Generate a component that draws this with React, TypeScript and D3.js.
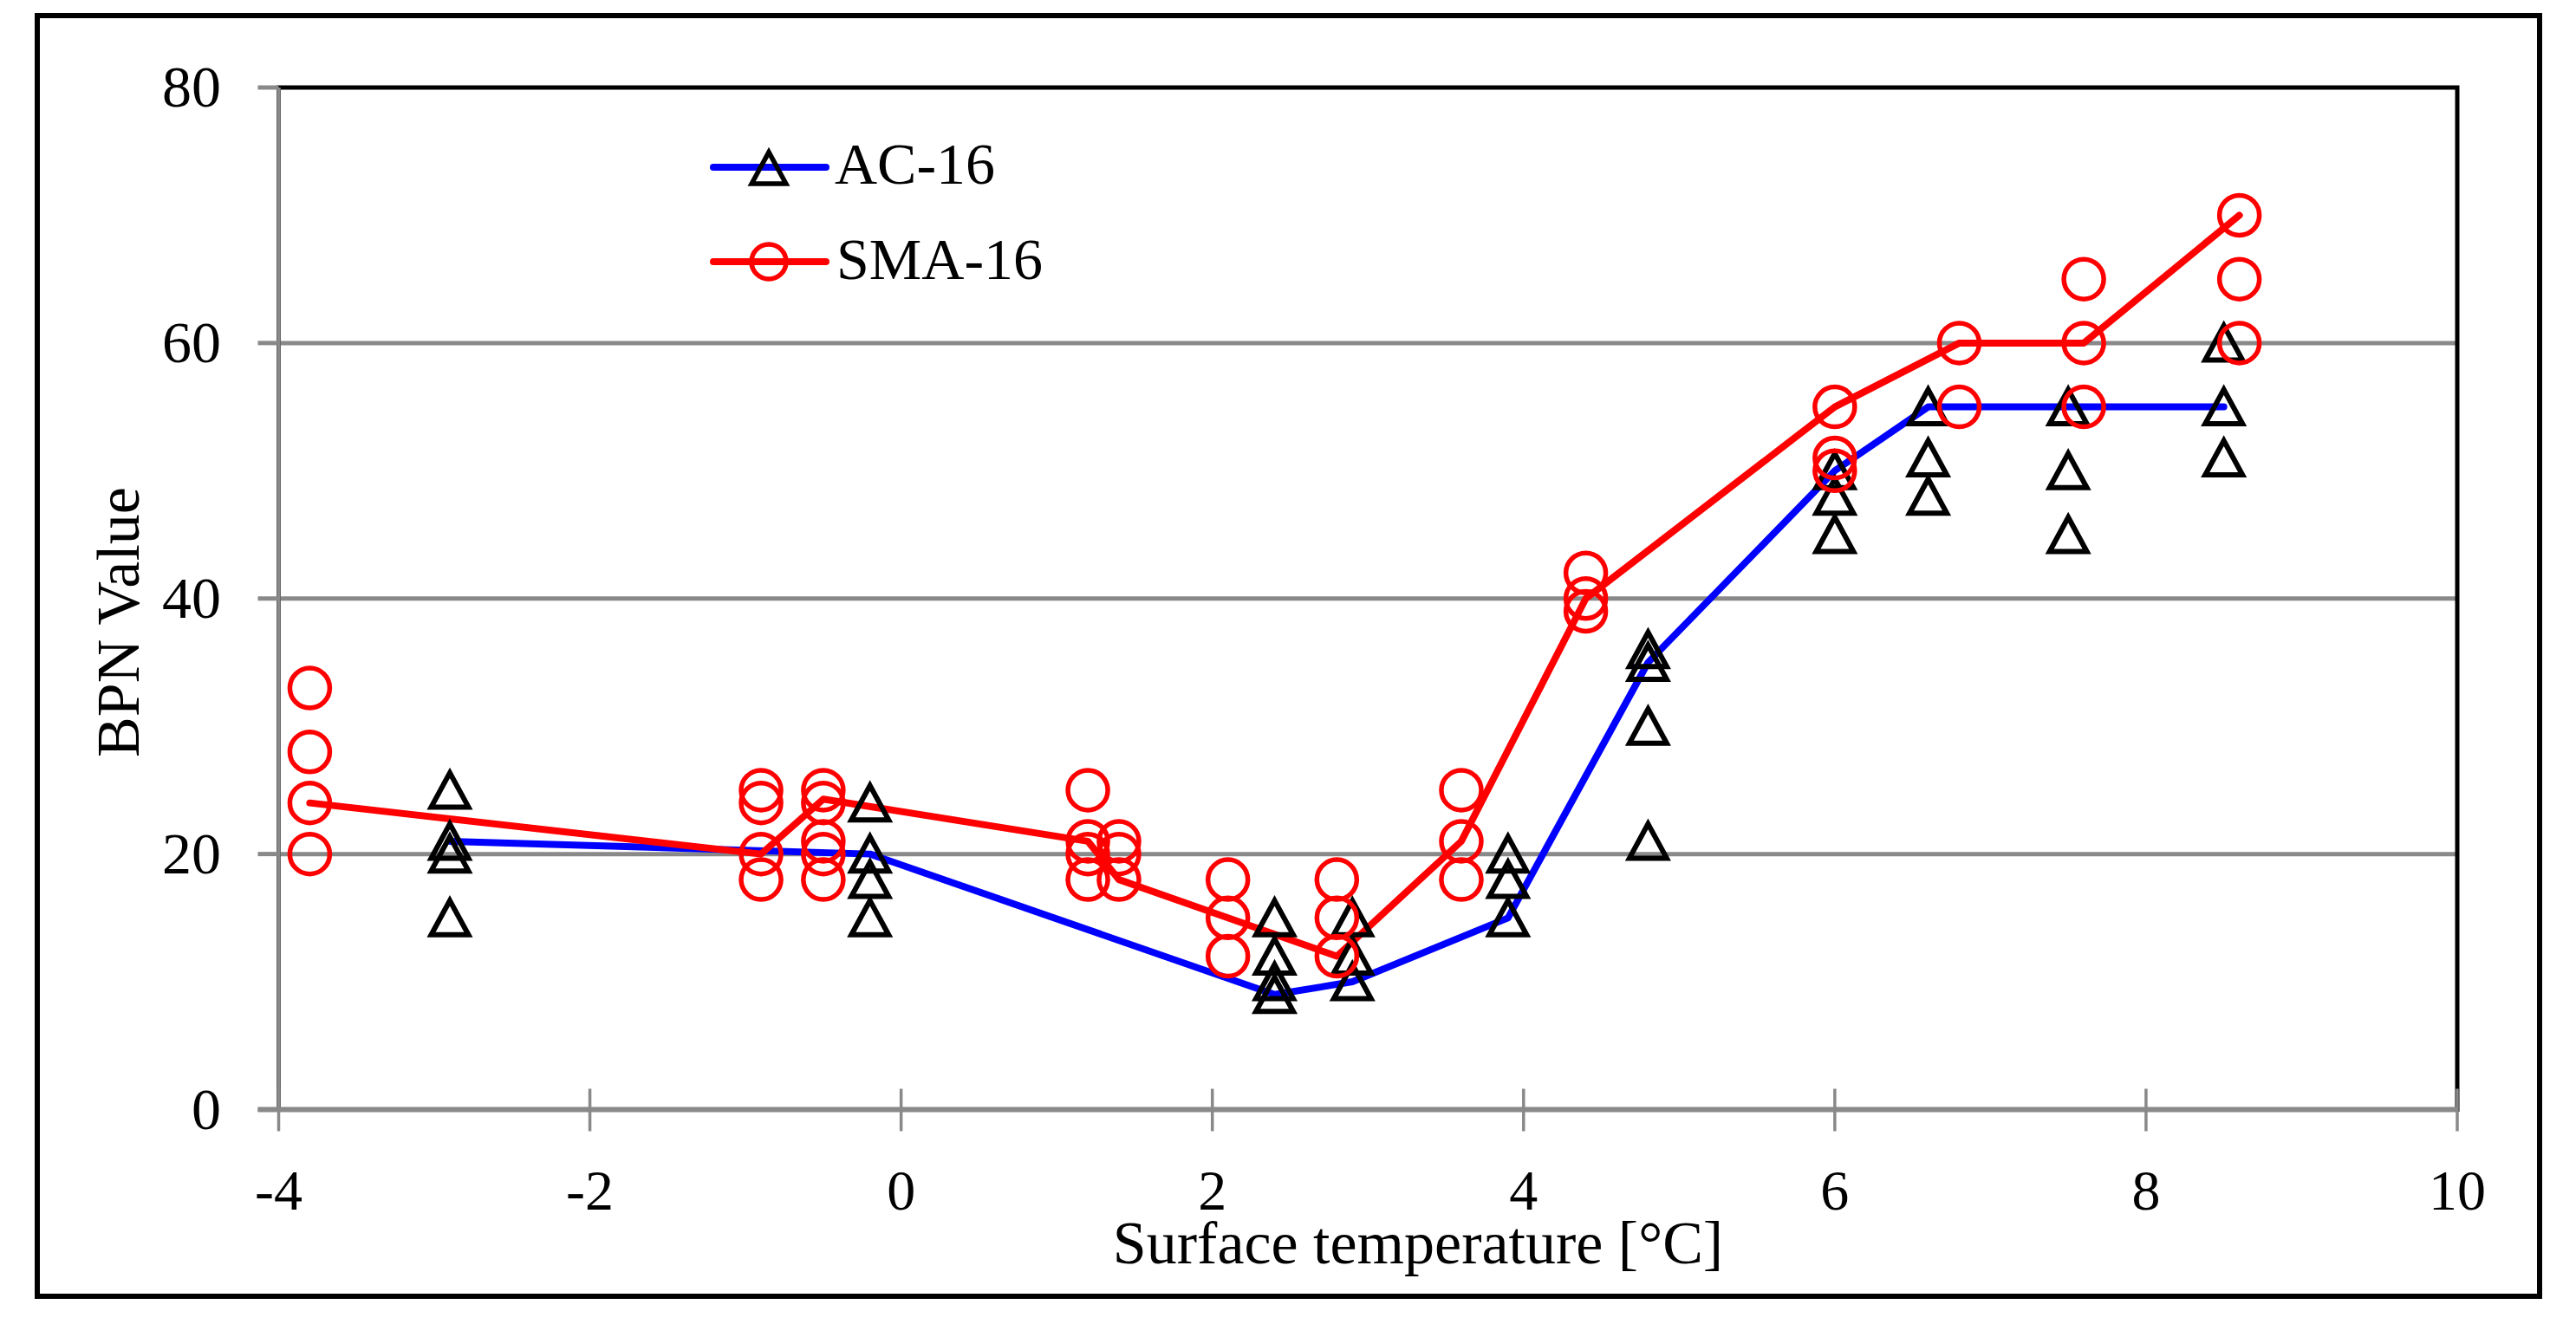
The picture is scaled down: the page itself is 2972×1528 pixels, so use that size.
import React from "react";
import * as d3 from "d3";

// ---- data ----
const X_TICKS = [-4, -2, 0, 2, 4, 6, 8, 10];
const Y_TICKS = [0, 20, 40, 60, 80];
const GRID_VALUES = [20, 40, 60];

// AC-16 individual readings
const AC_TEMPS = [-2.9, -0.2, 2.4, 2.9, 3.9, 4.8, 6.0, 6.6, 7.5, 8.5];
const AC_READINGS = [
  [25, 21, 20, 15],
  [24, 20, 18, 15],
  [15, 12, 10, 9],
  [15, 12, 10],
  [20, 18, 15],
  [36, 35, 30, 21],
  [50, 48, 45],
  [55, 51, 48],
  [55, 50, 45],
  [60, 55, 51],
];
// AC-16 line
const AC_LINE_X = [-2.9, -0.2, 2.4, 2.9, 3.9, 4.8, 6.0, 6.6, 7.5, 8.5];
const AC_LINE_Y = [21, 20, 9, 10, 15, 35, 50, 55, 55, 55];

// SMA-16 individual readings
const SMA_TEMPS = [-3.8, -0.9, -0.5, 1.2, 1.4, 2.1, 2.8, 3.6, 4.4, 6.0, 6.8, 7.6, 8.6];
const SMA_READINGS = [
  [33, 28, 24, 20],
  [25, 24, 20, 18],
  [25, 24, 21, 20, 18],
  [25, 21, 20, 18],
  [21, 20, 18],
  [18, 15, 12],
  [18, 15, 12],
  [25, 21, 18],
  [42, 40, 39],
  [55, 51, 50],
  [60, 55],
  [65, 60, 55],
  [70, 65, 60],
];
// SMA-16 line
const SMA_LINE_X = [-3.8, -0.9, -0.5, 1.2, 1.4, 2.1, 2.8, 3.6, 4.4, 6.0, 6.8, 7.6, 8.6];
const SMA_LINE_Y = [24, 20, 24.3, 21, 18, 15, 12, 21, 40, 55, 60, 60, 70];

const SERIES_NAMES = ["AC-16", "SMA-16"];
const X_LABEL = "Surface temperature [°C]";
const Y_LABEL = "BPN Value";

// ---- layout ----
const W = 2972;
const H = 1528;
const FONT = "'Liberation Serif', 'Times New Roman', serif";
const GRAY = "#898989";
const BLUE = "#0000ff";
const RED = "#ff0000";

const x = d3.scaleLinear().domain([-4, 10]).range([321.5, 2835]);
const y = d3.scaleLinear().domain([0, 80]).range([1280.5, 101]);

const triPath = "M0,-20 L21.5,19.5 L-21.5,19.5 Z";

function pairs(xs: number[], ys: number[]): [number, number][] {
  return xs.map((v, i) => [v, ys[i]] as [number, number]);
}

const line = d3
  .line<[number, number]>()
  .x((d) => x(d[0]))
  .y((d) => y(d[1]))
  .curve(d3.curveLinear);

export default function App() {
  const acPts: [number, number][] = [];
  AC_TEMPS.forEach((t, i) => AC_READINGS[i].forEach((v) => acPts.push([t, v])));
  const smaPts: [number, number][] = [];
  SMA_TEMPS.forEach((t, i) => SMA_READINGS[i].forEach((v) => smaPts.push([t, v])));

  const [x0, x1] = x.range();
  const [yb, yt] = y.range();

  return (
    <svg
      width={W}
      height={H}
      viewBox={`0 0 ${W} ${H}`}
      style={{ position: "absolute", left: 0, top: 0, background: "#fff" }}
      fontFamily={FONT}
    >
      <rect x={0} y={0} width={W} height={H} fill="#fff" />
      {/* outer chart border */}
      <rect x={43} y={18} width={2887} height={1478} fill="none" stroke="#000" strokeWidth={6} />

      {/* gridlines */}
      {GRID_VALUES.map((v) => (
        <line key={"g" + v} x1={x0} x2={x1} y1={y(v)} y2={y(v)} stroke={GRAY} strokeWidth={5} />
      ))}

      {/* plot area border */}
      <rect x={x0} y={yt} width={x1 - x0} height={yb - yt} fill="none" stroke="#000" strokeWidth={5} />

      {/* y axis */}
      <line x1={x0} x2={x0} y1={yt} y2={yb} stroke={GRAY} strokeWidth={4.5} />
      {Y_TICKS.map((v) => (
        <g key={"yt" + v}>
          <line x1={x0 - 24} x2={x0} y1={y(v)} y2={y(v)} stroke={GRAY} strokeWidth={5} />
          <text x={255} y={y(v) + 22} textAnchor="end" fontSize={68} fill="#000">
            {String(v)}
          </text>
        </g>
      ))}

      {/* x axis */}
      <line x1={x0 - 24} x2={x1} y1={yb} y2={yb} stroke={GRAY} strokeWidth={6} />
      {X_TICKS.map((v) => (
        <g key={"xt" + v}>
          <line x1={x(v)} x2={x(v)} y1={yb - 24} y2={yb + 25} stroke={GRAY} strokeWidth={3.5} />
          <text x={x(v)} y={1396} textAnchor="middle" fontSize={66} fill="#000">
            {String(v)}
          </text>
        </g>
      ))}

      {/* axis titles */}
      <text x={1636} y={1458} textAnchor="middle" fontSize={70} fill="#000">
        {X_LABEL}
      </text>
      <text
        transform={`translate(160,718) rotate(-90)`}
        textAnchor="middle"
        fontSize={70}
        fill="#000"
      >
        {Y_LABEL}
      </text>

      {/* lines */}
      <path
        d={line(pairs(AC_LINE_X, AC_LINE_Y)) || ""}
        fill="none"
        stroke={BLUE}
        strokeWidth={8}
        strokeLinejoin="round"
        strokeLinecap="round"
      />
      <path
        d={line(pairs(SMA_LINE_X, SMA_LINE_Y)) || ""}
        fill="none"
        stroke={RED}
        strokeWidth={8}
        strokeLinejoin="round"
        strokeLinecap="round"
      />

      {/* markers */}
      {acPts.map((d, i) => (
        <path
          key={"ac" + i}
          d={triPath}
          transform={`translate(${x(d[0])},${y(d[1])})`}
          fill="none"
          stroke="#000"
          strokeWidth={6}
        />
      ))}
      {smaPts.map((d, i) => (
        <circle
          key={"sma" + i}
          cx={x(d[0])}
          cy={y(d[1])}
          r={23}
          fill="none"
          stroke={RED}
          strokeWidth={5.5}
        />
      ))}

      {/* legend */}
      <line x1={823} x2={953} y1={193} y2={193} stroke={BLUE} strokeWidth={8} strokeLinecap="round" />
      <path d={triPath} transform="translate(887,194) scale(0.92)" fill="none" stroke="#000" strokeWidth={6} />
      <text x={963} y={212} fontSize={68} fill="#000">
        {SERIES_NAMES[0]}
      </text>
      <line x1={823} x2={953} y1={302} y2={302} stroke={RED} strokeWidth={8} strokeLinecap="round" />
      <circle cx={887} cy={302} r={20} fill="none" stroke={RED} strokeWidth={5.5} />
      <text x={965} y={322} fontSize={68} fill="#000">
        {SERIES_NAMES[1]}
      </text>
    </svg>
  );
}
